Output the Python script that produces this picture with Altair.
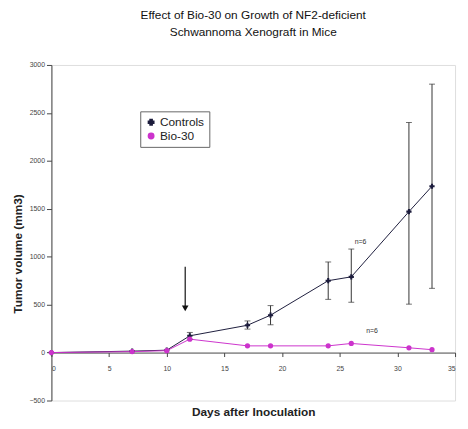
import altair as alt
import pandas as pd

# ---- data ----
days = [0, 7, 10, 12, 17, 19, 24, 26, 31, 33]
controls = [0, 15, 25, 175, 285, 390, 750, 790, 1470, 1735]
bio30 = [0, 10, 20, 140, 70, 70, 70, 95, 50, 30]

err_days = [12, 17, 19, 24, 26, 31, 33]
err_lo = [140, 245, 290, 555, 525, 505, 670]
err_hi = [210, 330, 490, 945, 1080, 2400, 2800]

series_names = ["Controls", "Bio-30"]
series_colors = ["#1c1c3c", "#cc33cc"]
series_shapes = ["cross", "circle"]

arrow_day = [11.6]
arrow_top = [895]
arrow_tip = [460]

note_days = [26.8, 27.8]
note_vals = [1150, 225]
note_text = ["n=6", "n=6"]

title_lines = ["Effect of Bio-30 on Growth of NF2-deficient", "Schwannoma Xenograft in Mice"]
x_ticks = [0, 5, 10, 15, 20, 25, 30, 35]
y_ticks = [-500, 0, 500, 1000, 1500, 2000, 2500, 3000]

# ---- tables ----
rows = []
for i, d in enumerate(days):
    rows.append({"day": d, "value": controls[i], "series": "Controls"})
for i, d in enumerate(days):
    rows.append({"day": d, "value": bio30[i], "series": "Bio-30"})
df = pd.DataFrame(rows)
err_df = pd.DataFrame({"day": err_days, "lo": err_lo, "hi": err_hi})
arrow_df = pd.DataFrame({"day": arrow_day, "top": arrow_top, "tip": arrow_tip})
note_df = pd.DataFrame({"day": note_days, "value": note_vals, "text": note_text})

W, H = 409, 340
FONT = "Liberation Sans"

xs = alt.Scale(domain=[0, 35], nice=False)
ys = alt.Scale(domain=[-500, 3000], nice=False)
color = alt.Color("series:N", scale=alt.Scale(domain=series_names, range=series_colors),
                  legend=alt.Legend(title=None, orient="none", legendX=90, legendY=47,
                                    strokeColor="#666666", padding=5, labelFont=FONT,
                                    labelFontSize=12, labelColor="#222222",
                                    symbolSize=30, rowPadding=2, labelOffset=3))
shape = alt.Shape("series:N", scale=alt.Scale(domain=series_names, range=series_shapes),
                  legend=None)

x_enc = alt.X("day:Q", scale=xs,
              axis=alt.Axis(values=x_ticks, title="Days after Inoculation", grid=False,
                            offset=-H * 500 / 3500, tickSize=4, labelPadding=8,
                            labelFontSize=7, labelColor="#444444", labelFont=FONT,
                            domainColor="#444444", tickColor="#444444", format="d",
                            titleFont=FONT, titleFontSize=12, titleFontWeight="bold",
                            titleColor="#222222", titleX=W / 2, titleY=55,
                            titleBaseline="top"))
y_enc = alt.Y("value:Q", scale=ys,
              axis=alt.Axis(values=y_ticks, title="Tumor volume (mm3)", grid=False,
                            tickSize=5, labelFontSize=7, labelColor="#444444",
                            labelFont=FONT, domainColor="#444444", tickColor="#444444",
                            format="d",
                            titleFont=FONT, titleFontSize=12, titleFontWeight="bold",
                            titleColor="#222222", titleX=-34, titleY=191,
                            titleBaseline="middle", titleAlign="center"))

lines = alt.Chart(df).mark_line(strokeWidth=1).encode(
    x=x_enc, y=y_enc, color=color, detail="series:N", order="day:Q")

errs = alt.Chart(err_df).mark_rule(color="#333333", strokeWidth=1).encode(
    x="day:Q", y="lo:Q", y2="hi:Q")
caps_lo = alt.Chart(err_df).mark_tick(color="#333333", size=6, thickness=1,
                                      orient="horizontal").encode(x="day:Q", y="lo:Q")
caps_hi = alt.Chart(err_df).mark_tick(color="#333333", size=6, thickness=1,
                                      orient="horizontal").encode(x="day:Q", y="hi:Q")

points = alt.Chart(df).mark_point(filled=True, opacity=1).encode(
    x="day:Q", y="value:Q", color=color, shape=shape,
    size=alt.value(28))

arrow = alt.Chart(arrow_df).mark_rule(color="#111111", strokeWidth=1.2).encode(
    x="day:Q", y="top:Q", y2="tip:Q")
arrow_head = alt.Chart(arrow_df).mark_point(shape="triangle-down", filled=True,
                                            color="#111111", size=45, opacity=1).encode(
    x="day:Q", y="tip:Q")

notes = alt.Chart(note_df).mark_text(font=FONT, fontSize=7, color="#333333").encode(
    x="day:Q", y="value:Q", text="text:N")

chart = alt.layer(lines, errs, caps_lo, caps_hi, points, arrow, arrow_head, notes).properties(
    width=W, height=H,
    title=alt.TitleParams(text=title_lines, font=FONT, fontSize=12, fontWeight="normal",
                          color="#111111", anchor="middle", offset=22, lineHeight=18),
    padding={"left": 44, "top": 55, "right": 5, "bottom": 15},
    autosize=alt.AutoSizeParams(type="none"),
).configure_view(stroke=None).configure(background="white")

chart.save("out.html", embed_options={"renderer": "svg", "actions": False})
